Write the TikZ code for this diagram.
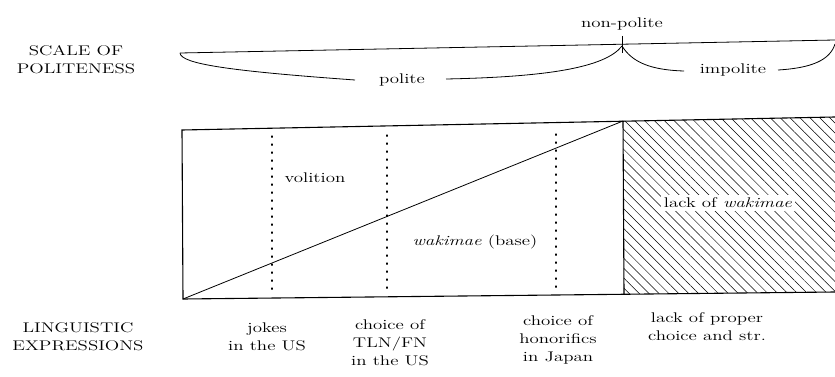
\documentclass[tikz,border=0pt]{standalone}
\usepackage{fontspec}
\setmainfont{Latin Modern Roman}[FakeStretch=1.35]
\usetikzlibrary{patterns.meta}
\tikzset{
  lbl/.style={font=\fontsize{14}{18}\selectfont, align=center, inner sep=1pt},
  thinln/.style={line width=0.8pt},
  boxln/.style={line width=1.1pt},
  dotln/.style={line width=1.3pt, dash pattern=on 1.2pt off 6.8pt, line cap=round},
}
\begin{document}
\begin{tikzpicture}[x=1pt,y=-1pt]
\useasboundingbox (0,0) rectangle (835,377);
% scale of politeness
\node[lbl] (scale) at (76,60) {SCALE OF\\POLITENESS};
\coordinate (s0) at (180,53);
\coordinate (s1) at (835,40);
\draw[thinln] (s0) -- (s1);
\coordinate (t0) at (622,36);
\coordinate (t1) at (622,53);
\draw[thinln] (t0) -- (t1);
\node[lbl] (np) at (622,24) {non-polite};
\coordinate (tk) at (622,46);
% polite brace
\node[lbl] (pol) at (402,80) {polite};
\coordinate (p1) at (355,80);
\coordinate (p2) at (446,79);
\draw[thinln] (s0) .. controls (181,64) and (230,71) .. (p1);
\draw[thinln] (p2) .. controls (545,77) and (605,68) .. (tk);
% impolite brace
\node[lbl] (imp) at (733,70) {impolite};
\coordinate (i1) at (684,71);
\coordinate (i2) at (778,70);
\coordinate (i3) at (835,44);
\draw[thinln] (tk) .. controls (632,62) and (650,70) .. (i1);
\draw[thinln] (i2) .. controls (812,68) and (830,60) .. (i3);
% box
\coordinate (bl) at (183,299);
\coordinate (tl) at (182,130);
\coordinate (dt) at (623,121);
\coordinate (db) at (624,294);
\coordinate (rt) at (835,117);
\coordinate (rb) at (835,292);
\fill[pattern={Lines[angle=-45,distance=7pt,line width=0.5pt]}] (dt) -- (rt) -- (rb) -- (db) -- cycle;
\draw[boxln] (rt) -- (tl) -- (bl) -- (rb);
\draw[boxln] (dt) -- (db);
\draw[thinln] (bl) -- (dt);
% dotted dividers
\draw[dotln] (272,136) -- (272,293);
\draw[dotln] (387,135) -- (387,294);
\draw[dotln] (556,134) -- (556,292);
\node[lbl] (vol) at (315,178) {volition};
\node[lbl] (wak) at (475,242) {\textit{wakimae} (base)};
\node[lbl, fill=white, inner sep=3pt] (lack) at (728,203) {lack of \textit{wakimae}};
% linguistic expressions
\node[lbl] (ling) at (78,337) {LINGUISTIC\\EXPRESSIONS};
\node[lbl] (jokes) at (267,337) {jokes\\in the US};
\node[lbl] (tln) at (390,343) {choice of\\TLN/FN\\in the US};
\node[lbl] (hon) at (558,340) {choice of\\honorifics\\in Japan};
\node[lbl] (lop) at (707,327) {lack of proper\\choice and str.};
\end{tikzpicture}
\end{document}
